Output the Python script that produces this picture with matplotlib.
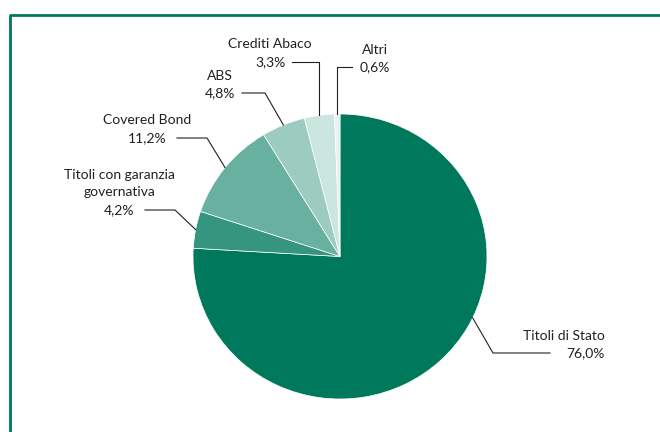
import matplotlib
matplotlib.use('Agg')
import matplotlib.pyplot as plt
import numpy as np

# dati
labels = ['Titoli di Stato', 'Titoli con garanzia\ngovernativa', 'Covered Bond',
          'ABS', 'Crediti Abaco', 'Altri']
values = [76.0, 4.2, 11.2, 4.8, 3.3, 0.6]
colors = ['#00785c', '#36957e', '#68b0a0', '#9ccbbf', '#cbe5df', '#e6f2ef']

# posizione etichette (pixel, origine in alto a sinistra)
# (angolo ancora o None = centro spicchio, gomito, fine linea, x testo, allineamento)
label_layout = [
    (-25.5, (493, 353), (550, 353), 605, 'right'),
    (None, (175, 210), (145, 210), 119, 'center'),
    (None, (207, 138), (177, 138), 147, 'center'),
    (None, (265, 93), (242, 93), 220, 'center'),
    (None, 'v', (292, 62), 270, 'center'),
    (None, 'v', (352, 67), 375, 'center'),
]

plt.rcParams['font.family'] = ['Lato', 'DejaVu Sans']
W, H = 660, 432
fig = plt.figure(figsize=(W / 100, H / 100), dpi=100)

# area della torta
px0, py0, pw, ph = 193, 114, 294, 285
ax = fig.add_axes([px0 / W, (H - py0 - ph) / H, pw / W, ph / H])
wedges, _ = ax.pie(values, colors=colors, startangle=90, counterclock=False,
                   wedgeprops=dict(edgecolor='white', linewidth=0.5))
ax.set_aspect('auto')
ax.set_xlim(-1, 1)
ax.set_ylim(-1, 1)
ax.axis('off')

cx, cy = px0 + pw / 2, py0 + ph / 2
rx, ry = pw / 2, ph / 2

ov = fig.add_axes([0, 0, 1, 1])
ov.set_xlim(0, W)
ov.set_ylim(H, 0)
ov.axis('off')

# cornice
ov.plot([10, 10, W], [H, 14.5, 14.5], color='#00785c', lw=2, solid_capstyle='butt')

line_h = 17.5
for w, lab, val, lay in zip(wedges, labels, values, label_layout):
    ang, elbow, end, tx, ha = lay
    if ang is None:
        ang = (w.theta1 + w.theta2) / 2
    a = np.deg2rad(ang)
    x0 = cx + rx * np.cos(a)
    y0 = cy - ry * np.sin(a)
    if elbow == 'v':
        elbow = (x0, end[1])
    ov.plot([x0, elbow[0], end[0]], [y0, elbow[1], end[1]], color='#231f20', lw=0.8)
    pct = f'{val:.1f}'.replace('.', ',') + '%'
    lines = lab.split('\n') + [pct]
    for i, t in enumerate(reversed(lines)):
        ov.text(tx, end[1] - i * line_h, t, ha=ha, va='center', fontsize=10,
                color='#231f20')

fig.savefig('out.png', dpi=100)
